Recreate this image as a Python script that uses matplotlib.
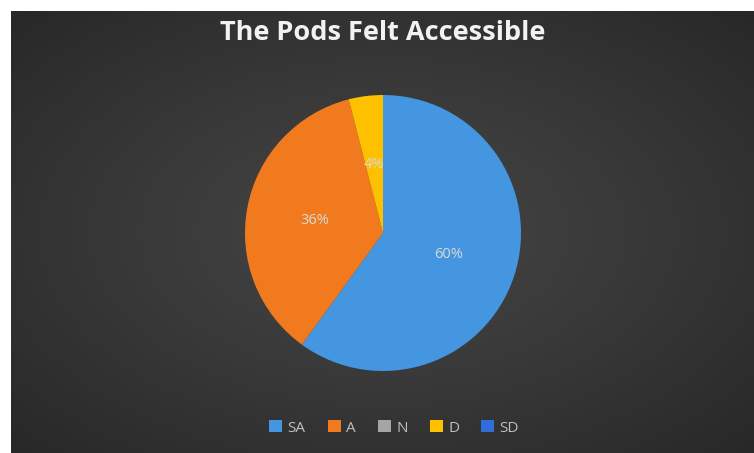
import numpy as np
import matplotlib.pyplot as plt
from matplotlib.colors import LinearSegmentedColormap

labels = ['SA', 'A', 'N', 'D', 'SD']
values = [60, 36, 0, 4, 0]
colors = ['#4596E0', '#F27A1E', '#A5A5A5', '#FFC000', '#2F6ED8']
title = 'The Pods Felt Accessible'

plt.rcParams['font.family'] = ['Open Sans', 'DejaVu Sans']

fig = plt.figure(figsize=(7.54, 4.53), dpi=100, facecolor='white')

# dark radial background, leaving a thin white margin on the left/top
bg = fig.add_axes([11 / 754, 0, 743 / 754, 442 / 453])
yy, xx = np.mgrid[-1:1:300j, -1:1:400j]
rr = np.sqrt(xx ** 2 + yy ** 2) / np.sqrt(2)
cmap = LinearSegmentedColormap.from_list('bg', ['#464646', '#383838', '#282828'])
bg.imshow(rr, cmap=cmap, aspect='auto', extent=[0, 1, 0, 1])
bg.set_axis_off()

# pie axes
cx, cy, r = 383, 453 - 233, 138
ax = fig.add_axes([(cx - r) / 754, (cy - r) / 453, 2 * r / 754, 2 * r / 453])
wedges, texts, autotexts = ax.pie(
    values, colors=colors, startangle=90, counterclock=False,
    autopct=lambda p: f'{p:.0f}%' if p > 0 else '', pctdistance=0.5,
    wedgeprops=dict(linewidth=0),
    textprops=dict(color='#D9D9D9', fontsize=10.5))
ax.set_aspect('equal')
ax.set_xlim(-1, 1)
ax.set_ylim(-1, 1)

fig.text(383 / 754, 1 - 33 / 453, title, ha='center', va='center',
         fontsize=19.5, fontweight='bold', color='#F2F2F2')

fig.legend(wedges, labels, loc='center', bbox_to_anchor=(394 / 754, 1 - 428 / 453),
           ncol=5, frameon=False, fontsize=11, labelcolor='#BFBFBF',
           handlelength=0.85, handleheight=0.85, handletextpad=0.35, columnspacing=1.45)

fig.savefig('out.png', dpi=100, facecolor='white')
